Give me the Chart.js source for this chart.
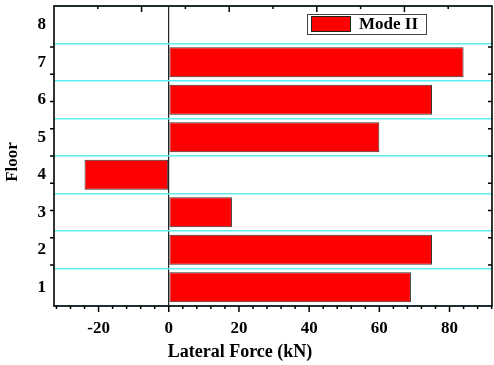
<!DOCTYPE html>
<html>
<head>
<meta charset="utf-8">
<script src="https://cdn.jsdelivr.net/npm/chart.js@4"></script>
<style>
  html, body { margin: 0; padding: 0; background: #fff; }
  #chart { display: block; }
</style>
</head>
<body>
<canvas id="chart" width="494" height="365"></canvas>
<script>
// Floor labels (bottom to top) and lateral force per floor, kN
const floors = ['1', '2', '3', '4', '5', '6', '7', '8'];
const modeII = [69, 75, 18, -24, 60, 75, 84, null];
const seriesLabel = 'Mode II';

// Axis ticks
const xMajorTicks = [-20, 0, 20, 40, 60, 80];
const xMinorTicks = [-32, -28, -24, -16, -12, -8, -4, 4, 8, 12, 16, 24, 28, 32, 36, 44, 48, 52, 56, 64, 68, 72, 76, 84, 88, 92];
const xRange = [-32.7, 92.1];
const xTitle = 'Lateral Force (kN)';
const yTitle = 'Floor';

const FONT = '"Liberation Serif", "Times New Roman", serif';

const noPad = s => { s.paddingTop = 0; s.paddingBottom = 0; s.paddingLeft = 0; s.paddingRight = 0; };

// frame, tick marks, axis titles and boxed legend, Origin style
const decor = {
    id: 'decor',
    afterDraw(chart) {
        const { ctx, chartArea: a, scales } = chart;
        ctx.save();
        ctx.strokeStyle = '#000';

        // ticks
        ctx.lineWidth = 1.5;
        ctx.beginPath();
        for (let v = 1; v < 10; v++) {
            const y = scales.yt.getPixelForValue(v);
            ctx.moveTo(a.left - 4, y); ctx.lineTo(a.left, y);
            ctx.moveTo(a.right - 4, y); ctx.lineTo(a.right, y);
            const x = scales.xt.getPixelForValue(v);
            const len = v % 2 === 0 ? 6 : 3;
            ctx.moveTo(x, a.top); ctx.lineTo(x, a.top + len);
        }
        xMajorTicks.forEach(v => {
            const x = scales.x.getPixelForValue(v);
            ctx.moveTo(x, a.bottom); ctx.lineTo(x, a.bottom + 6);
        });
        xMinorTicks.forEach(v => {
            const x = scales.x.getPixelForValue(v);
            ctx.moveTo(x, a.bottom); ctx.lineTo(x, a.bottom + 3);
        });
        ctx.stroke();

        // frame
        ctx.lineWidth = 1.6;
        ctx.strokeRect(a.left, a.top, a.right - a.left, a.bottom - a.top);

        // axis titles
        ctx.fillStyle = '#000';
        ctx.font = 'bold 18px ' + FONT;
        ctx.textAlign = 'center';
        ctx.textBaseline = 'middle';
        ctx.fillText(xTitle, 240, 352);
        ctx.save();
        ctx.translate(13, 162);
        ctx.rotate(-Math.PI / 2);
        ctx.font = 'bold 17px ' + FONT;
        ctx.fillText(yTitle, 0, 0);
        ctx.restore();

        // legend
        const ds = chart.data.datasets[0];
        ctx.lineWidth = 1;
        ctx.strokeStyle = '#444';
        ctx.fillStyle = '#fff';
        ctx.fillRect(307, 14, 119, 20);
        ctx.strokeRect(307.5, 14.5, 119, 20);
        ctx.fillStyle = ds.backgroundColor;
        ctx.fillRect(311, 16, 40, 16);
        ctx.strokeStyle = '#222';
        ctx.strokeRect(311.5, 16.5, 39, 15);
        ctx.fillStyle = '#000';
        ctx.font = 'bold 17px ' + FONT;
        ctx.textAlign = 'left';
        ctx.fillText(ds.label, 359, 25);
        ctx.restore();
    }
};

new Chart(document.getElementById('chart'), {
    type: 'bar',
    data: {
        labels: floors,
        datasets: [{
            label: seriesLabel,
            data: modeII,
            xAxisID: 'x',
            yAxisID: 'y',
            backgroundColor: '#ff0000',
            borderColor: '#333',
            borderWidth: 1,
            borderSkipped: false,
            categoryPercentage: 1,
            barPercentage: 0.8
        }]
    },
    options: {
        indexAxis: 'y',
        responsive: false,
        animation: false,
        devicePixelRatio: 1,
        layout: { padding: { top: 6, right: 2, left: 0, bottom: 0 } },
        plugins: { legend: { display: false }, tooltip: { enabled: false } },
        scales: {
            x: {
                type: 'linear',
                position: 'bottom',
                min: xRange[0],
                max: xRange[1],
                afterBuildTicks: s => { s.ticks = xMajorTicks.map(v => ({ value: v })); },
                afterFit: s => { s.height = 59; noPad(s); },
                border: { display: false },
                grid: {
                    drawTicks: false,
                    color: c => (c.tick && c.tick.value === 0) ? '#222' : 'rgba(0,0,0,0)',
                    lineWidth: 1.2
                },
                ticks: {
                    color: '#000',
                    padding: 12,
                    font: { family: FONT, size: 17, weight: 'bold' }
                }
            },
            y: {
                type: 'category',
                position: 'left',
                reverse: true,
                offset: true,
                afterFit: s => { s.width = 54; noPad(s); },
                border: { display: false },
                grid: {
                    offset: true,
                    drawTicks: false,
                    color: '#5ceef2',
                    lineWidth: 1.5
                },
                ticks: {
                    color: '#000',
                    padding: 8,
                    font: { family: FONT, size: 17, weight: 'bold' }
                }
            },
            yt: { type: 'linear', display: false, min: 0, max: 10, position: 'right', afterFit: noPad },
            xt: { type: 'linear', display: false, min: 0, max: 10, position: 'top', afterFit: noPad }
        }
    },
    plugins: [decor]
});
</script>
</body>
</html>
